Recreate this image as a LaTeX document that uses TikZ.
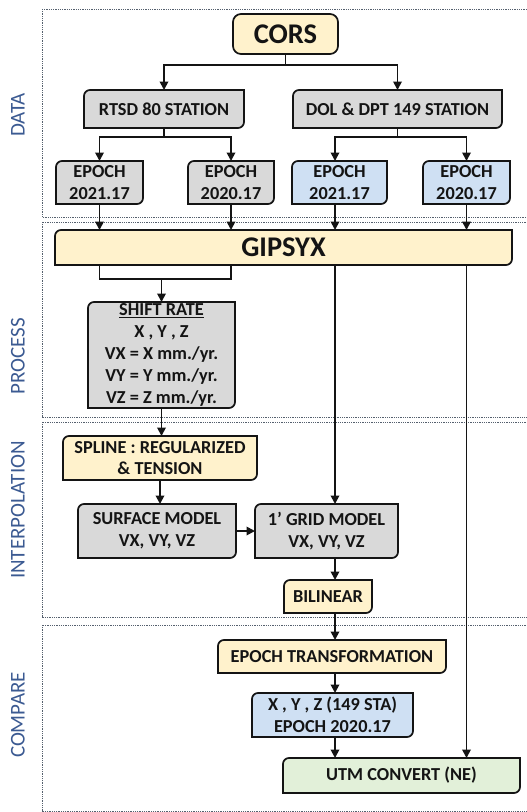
\documentclass[tikz,border=0pt]{standalone}
\usepackage{fontspec}
\setmainfont{Carlito}
\usetikzlibrary{arrows.meta,calc}
\definecolor{yel}{HTML}{FFF2CC}
\definecolor{gry}{HTML}{D9D9D9}
\definecolor{blu}{HTML}{CFE0F3}
\definecolor{grn}{HTML}{E2F0D9}
\definecolor{lab}{HTML}{3B5A92}
\definecolor{frm}{HTML}{55606E}
\definecolor{ink}{HTML}{141414}
\tikzset{
  boxline/.style={draw=ink,line width=1.7pt},
  txt/.style={inner sep=0pt,outer sep=0pt,align=center,text=ink,
    font=\fontsize{18.3}{21.8}\selectfont\bfseries},
  bigtxt/.style={font=\fontsize{28.5}{31}\selectfont\bfseries},
  frame/.style={draw=frm,line width=0.8pt,dash pattern=on 0.9pt off 0.9pt},
  seclab/.style={rotate=90,text=lab,inner sep=0pt,font=\fontsize{21}{23}\selectfont},
  ln/.style={draw=ink,line width=1.8pt},
  arr/.style={ln,-{Triangle[length=8.5pt,width=8.5pt]}},
}
\newcommand\dbox[8][txt]{%
  \filldraw[boxline,fill=#7] (#3,-#6) -- (#3,-#4-6) arc[start angle=180,end angle=90,radius=6pt]
    -- (#5,-#4) -- (#5,-#6+6) arc[start angle=0,end angle=-90,radius=6pt] -- cycle;
  \node[txt,#1,minimum width={(#5-#3)*1pt},minimum height={(#6-#4)*1pt}] (#2)
    at ({(#3+#5)/2},{-(#4+#6)/2}) {#8};}
\begin{document}
\begin{tikzpicture}[x=1pt,y=1pt]
\useasboundingbox (0,0) rectangle (527,-812);
\clip (0,0) rectangle (527,-812);
\fill[white] (0,0) rectangle (527,-812);
% section frames
\draw[frame] (42,-9) rectangle (540,-217);
\draw[frame] (42,-222) rectangle (540,-417);
\draw[frame] (42,-422) rectangle (540,-617);
\draw[frame] (42,-625) rectangle (540,-811);
\node[seclab] (ldata) at (18,-115) {DATA};
\node[seclab] (lproc) at (18,-356) {PROCESS};
\node[seclab] (linter) at (18,-510) {INTERPOLATION};
\node[seclab] (lcomp) at (18,-715) {COMPARE};
% boxes
\filldraw[boxline,fill=yel,rounded corners=8pt] (233,-14) rectangle (338,-54);
\node[txt,bigtxt,minimum width=105pt,minimum height=40pt] (cors) at (285.5,-34) {CORS};
\dbox{rtsd}{84}{90}{244}{128}{gry}{RTSD 80 STATION}
\dbox{dol}{293}{90}{502}{128}{gry}{DOL \& DPT 149 STATION}
\dbox{e1}{56}{161}{143}{204}{gry}{EPOCH\\2021.17}
\dbox{e2}{188}{161}{274}{204}{gry}{EPOCH\\2020.17}
\dbox{e3}{292}{161}{387}{204}{blu}{EPOCH\\2021.17}
\dbox{e4}{423}{161}{510}{204}{blu}{EPOCH\\2020.17}
\dbox[bigtxt]{gipsyx}{55}{230}{512}{265}{yel}{GIPSYX}
\dbox{shift}{88}{302}{235}{408}{gry}{\underline{SHIFT RATE}\\X , Y , Z\\VX = X mm./yr.\\VY = Y mm./yr.\\VZ = Z mm./yr.}
\dbox{spline}{63}{436}{257}{480}{yel}{SPLINE : REGULARIZED\\\& TENSION}
\dbox{surface}{78}{504}{236}{558}{gry}{SURFACE MODEL\\VX, VY, VZ}
\dbox{grid}{255}{504}{398}{558}{gry}{1’ GRID MODEL\\VX, VY, VZ}
\dbox{bil}{284}{580}{372}{613}{yel}{BILINEAR}
\dbox{et}{218}{640}{446}{673}{yel}{EPOCH TRANSFORMATION}
\dbox{xyz}{252}{693}{413}{737}{blu}{X , Y , Z (149 STA)\\EPOCH 2020.17}
\dbox{utm}{283}{758}{520}{793}{grn}{UTM CONVERT (NE)}
% connectors
\coordinate (tr) at (335,-100);
\coordinate (j1) at (285.5,-65);
\coordinate (j2) at (164,-137);
\coordinate (j3) at (397.5,-137);
\coordinate (b1) at (161.5,-279);
\draw[ln] (cors.south) -- (j1);
\draw[arr] (j1) -| (rtsd.north);
\draw[arr] (j1) -| (dol.north);
\draw[ln] (rtsd.south) -- (j2);
\draw[arr] (j2) -| (e1.north);
\draw[arr] (j2) -| (e2.north);
\draw[ln] (dol.south) -- (j3);
\draw[arr] (j3) -| (e3.north -| tr);
\draw[arr] (j3) -| (e4.north);
\draw[arr] (e1.south) -- (e1.south |- gipsyx.north);
\draw[arr] (e2.south) -- (e2.south |- gipsyx.north);
\draw[arr] (e3.south -| tr) -- (gipsyx.north -| tr);
\draw[arr] (e4.south) -- (e4.south |- gipsyx.north);
\draw[ln] (gipsyx.south -| e1) |- (b1) -| (gipsyx.south -| e2);
\draw[arr] (b1) -- (shift.north);
\draw[arr] (shift.south) -- (spline.north -| shift.south);
\draw[arr] (spline.south) -- (surface.north -| spline.south);
\draw[arr] (surface.east) -- (grid.west);
\draw[arr] (gipsyx.south -| tr) -- (grid.north -| tr);
\draw[arr] (grid.south -| tr) -- (bil.north -| tr);
\draw[arr] (bil.south -| tr) -- (et.north -| tr);
\draw[arr] (et.south -| tr) -- (xyz.north -| tr);
\draw[arr] (xyz.south -| tr) -- (utm.north -| tr);
\draw[arr] (gipsyx.south -| e4) -- (utm.north -| e4);
\end{tikzpicture}
\end{document}
